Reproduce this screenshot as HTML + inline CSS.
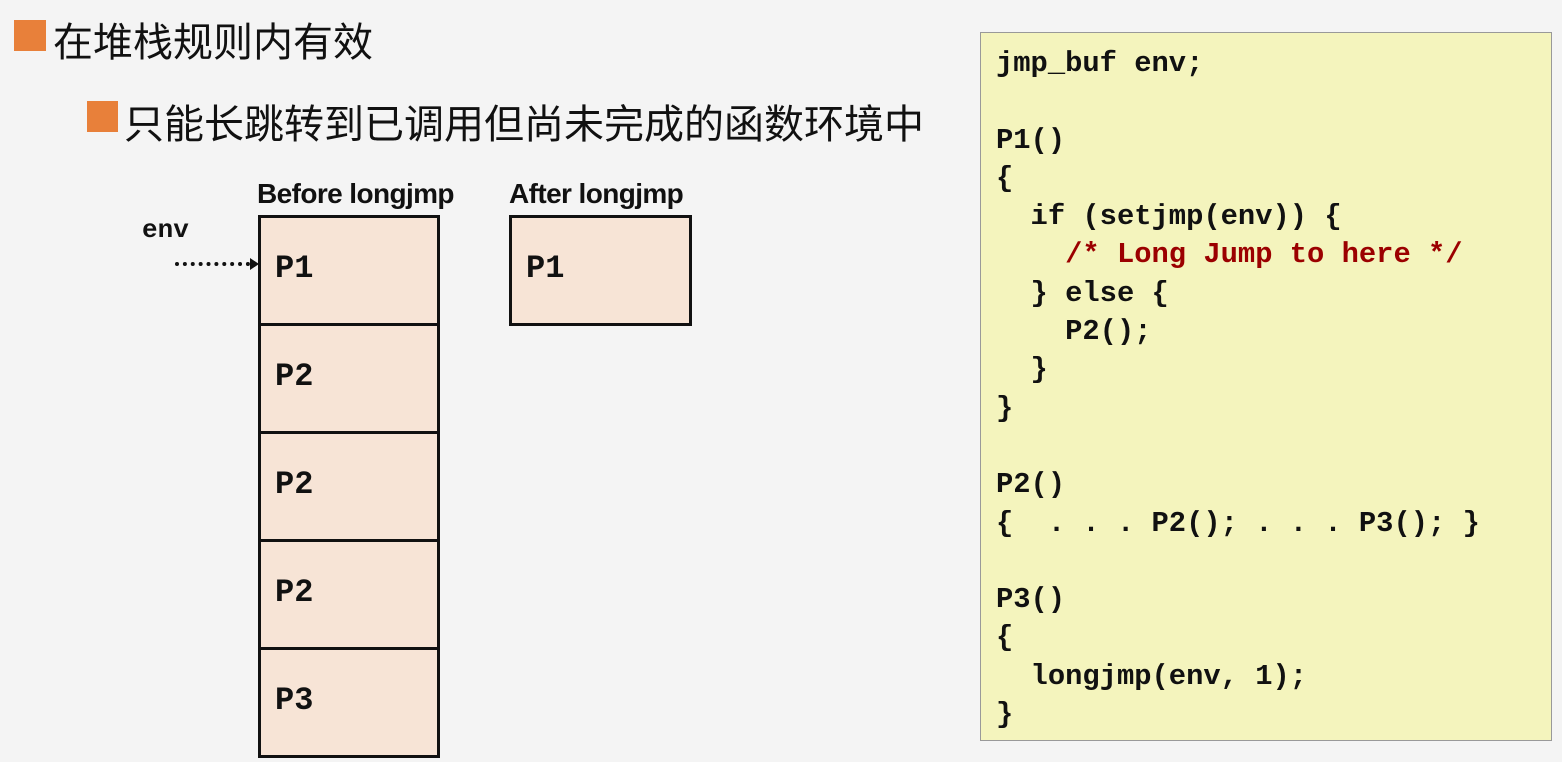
<!DOCTYPE html>
<html><head><meta charset="utf-8"><style>
body{margin:0;width:1562px;height:762px;background:#f4f4f4;position:relative;overflow:hidden;font-family:"Liberation Sans","Noto Sans CJK SC",sans-serif}
.sq{position:absolute;background:#e8803a}
.h{position:absolute;font-size:40px;letter-spacing:0;color:#111;line-height:1;white-space:nowrap;font-family:"Liberation Sans","Noto Sans CJK SC",sans-serif;font-weight:normal}
.box{position:absolute;background:#f7e4d6;border:3px solid #111;box-sizing:border-box}
.p{position:absolute;font-family:"Liberation Mono",monospace;font-weight:bold;font-size:32px;color:#111}
.lab{position:absolute;font-weight:bold;font-size:28px;letter-spacing:-0.6px;color:#111;white-space:nowrap}
.code{position:absolute;left:980px;top:32px;width:572px;height:709px;background:#f4f4bd;border:1px solid #999;box-sizing:border-box}
.code pre{margin:0;position:absolute;left:15px;top:12px;font-family:"Liberation Mono",monospace;font-weight:bold;font-size:28.8px;line-height:38.3px;color:#111}
.r{color:#9b0000}
</style></head><body>
<div class="sq" style="left:14px;top:20px;width:32px;height:31px"></div>
<div class="h" style="left:53px;top:23px">在堆栈规则内有效</div>
<div class="sq" style="left:87px;top:101px;width:31px;height:31px"></div>
<div class="h" style="left:124px;top:105px">只能长跳转到已调用但尚未完成的函数环境中</div>

<div class="lab" style="left:257px;top:178px">Before longjmp</div>
<div class="lab" style="left:509px;top:178px">After longjmp</div>
<div class="p" style="left:142px;top:215px;font-size:26px">env</div>
<div style="position:absolute;left:175px;top:262px;width:75px;border-top:4px dotted #111"></div>
<div style="position:absolute;left:250px;top:258px;width:0;height:0;border-left:9px solid #111;border-top:6px solid transparent;border-bottom:6px solid transparent"></div>

<div class="box" style="left:258px;top:215px;width:182px;height:111px"></div>
<div class="box" style="left:258px;top:323px;width:182px;height:111px"></div>
<div class="box" style="left:258px;top:431px;width:182px;height:111px"></div>
<div class="box" style="left:258px;top:539px;width:182px;height:111px"></div>
<div class="box" style="left:258px;top:647px;width:182px;height:111px"></div>
<div class="box" style="left:509px;top:215px;width:183px;height:111px"></div>
<div class="p" style="left:275px;top:250px">P1</div>
<div class="p" style="left:275px;top:358px">P2</div>
<div class="p" style="left:275px;top:466px">P2</div>
<div class="p" style="left:275px;top:574px">P2</div>
<div class="p" style="left:275px;top:682px">P3</div>
<div class="p" style="left:526px;top:250px">P1</div>

<div class="code"><pre>jmp_buf env;

P1()
{
  if (setjmp(env)) {
    <span class="r">/* Long Jump to here */</span>
  } else {
    P2();
  }
}

P2()
{  . . . P2(); . . . P3(); }

P3()
{
  longjmp(env, 1);
}</pre></div>
</body></html>
